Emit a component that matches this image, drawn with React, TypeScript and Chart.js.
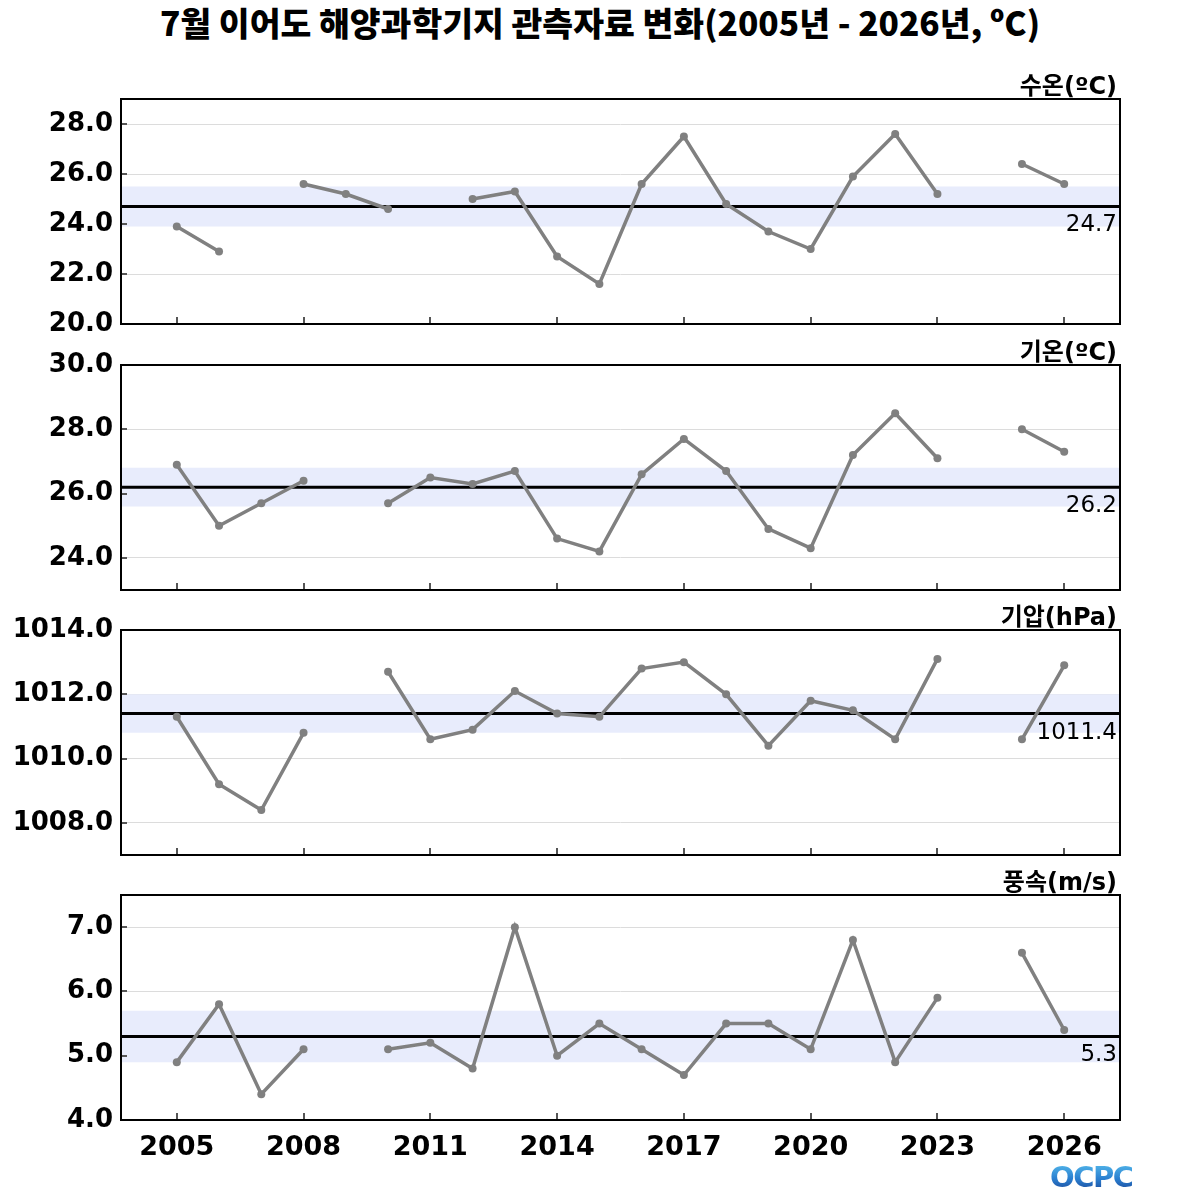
import React, { useEffect, useRef } from 'react'
import { Chart, registerables } from 'chart.js'

Chart.register(...registerables)

// 2005 ~ 2026, 7월 평균
const years = [2005, 2006, 2007, 2008, 2009, 2010, 2011, 2012, 2013, 2014, 2015, 2016, 2017, 2018, 2019, 2020, 2021, 2022, 2023, 2024, 2025, 2026]
const xTicks = [2005, 2008, 2011, 2014, 2017, 2020, 2023, 2026]

const waterTemp = [23.9, 22.9, null, 25.6, 25.2, 24.6, null, 25.0, 25.3, 22.7, 21.6, 25.6, 27.5, 24.8, 23.7, 23.0, 25.9, 27.6, 25.2, null, 26.4, 25.6]
const airTemp = [26.9, 25.0, 25.7, 26.4, null, 25.7, 26.5, 26.3, 26.7, 24.6, 24.2, 26.6, 27.7, 26.7, 24.9, 24.3, 27.2, 28.5, 27.1, null, 28.0, 27.3]
const pressure = [1011.3, 1009.2, 1008.4, 1010.8, null, 1012.7, 1010.6, 1010.9, 1012.1, 1011.4, 1011.3, 1012.8, 1013.0, 1012.0, 1010.4, 1011.8, 1011.5, 1010.6, 1013.1, null, 1010.6, 1012.9]
const windSpeed = [4.9, 5.8, 4.4, 5.1, null, 5.1, 5.2, 4.8, 7.0, 5.0, 5.5, 5.1, 4.7, 5.5, 5.5, 5.1, 6.8, 4.9, 5.9, null, 6.6, 5.4]

const waterTicks = [20, 22, 24, 26, 28]
const airTicks = [24, 26, 28, 30]
const pressureTicks = [1008, 1010, 1012, 1014]
const windTicks = [4, 5, 6, 7]

const X_MIN = 2003.68
const X_MAX = 2027.32
const W = 1200
const H = 1200

interface PanelProps {
  unit: string
  values: (number | null)[]
  mean: number
  band: [number, number]
  yMin: number
  yMax: number
  yTicks: number[]
  top: number
  bottom: number
  showX?: boolean
}

function Panel({ unit, values, mean, band, yMin, yMax, yTicks, top, bottom, showX }: PanelProps) {
  const canvasRef = useRef<HTMLCanvasElement>(null)

  useEffect(() => {
    if (!canvasRef.current) return
    const xAxisH = showX ? 48 : 0

    const decor = {
      id: 'decor',
      afterDatasetsDraw(chart: any) {
        const { ctx, chartArea: a, scales } = chart
        ctx.save()
        // inner tick marks
        ctx.strokeStyle = '#555'
        ctx.lineWidth = 2
        xTicks.forEach((t) => {
          const x = Math.round(scales.x.getPixelForValue(t))
          ctx.beginPath()
          ctx.moveTo(x, a.bottom)
          ctx.lineTo(x, a.bottom - 7)
          ctx.stroke()
        })
        yTicks.forEach((t) => {
          const y = Math.round(scales.y.getPixelForValue(t))
          ctx.beginPath()
          ctx.moveTo(a.left, y)
          ctx.lineTo(a.left + 6, y)
          ctx.stroke()
        })
        // frame
        ctx.strokeStyle = '#000'
        ctx.lineWidth = 2
        ctx.strokeRect(a.left, a.top, a.right - a.left, a.bottom - a.top)
        // mean label
        ctx.fillStyle = '#000'
        ctx.font = '23px "DejaVu Sans"'
        ctx.textAlign = 'right'
        ctx.textBaseline = 'middle'
        ctx.fillText(mean.toFixed(1), a.right - 3, scales.y.getPixelForValue(mean) + 19)
        // unit label
        ctx.font = 'bold 24px "DejaVu Sans", "Noto Sans CJK KR"'
        ctx.textBaseline = 'alphabetic'
        ctx.fillText(unit, a.right - 3, a.top - 5)
        ctx.restore()
      },
    }

    const chart = new Chart(canvasRef.current, {
      type: 'line',
      data: {
        datasets: [
          {
            data: years.map((yr, i) => ({ x: yr, y: values[i] })),
            borderColor: '#808080',
            backgroundColor: '#808080',
            borderWidth: 3.5,
            pointRadius: 4,
            pointBackgroundColor: '#808080',
            pointBorderWidth: 0,
            spanGaps: false,
            order: 0,
          },
          {
            data: [{ x: X_MIN, y: mean }, { x: X_MAX, y: mean }],
            borderColor: '#000',
            borderWidth: 3,
            pointRadius: 0,
            order: 1,
          },
          {
            data: [{ x: X_MIN, y: band[1] }, { x: X_MAX, y: band[1] }],
            borderWidth: 0,
            borderColor: 'rgba(0,0,0,0)',
            backgroundColor: '#E8ECFC',
            pointRadius: 0,
            fill: { value: band[0] },
            order: 2,
          },
        ],
      } as any,
      options: {
        animation: false,
        responsive: false,
        devicePixelRatio: 1,
        layout: {
          padding: { left: 0, right: W - 1120, top, bottom: H - bottom - xAxisH },
        },
        plugins: { legend: { display: false }, tooltip: { enabled: false } },
        scales: {
          x: {
            type: 'linear',
            min: X_MIN,
            max: X_MAX,
            display: !!showX,
            grid: { display: false, drawTicks: false },
            border: { display: false },
            afterBuildTicks: (s: any) => {
              s.ticks = xTicks.map((v) => ({ value: v }))
            },
            afterFit: (s: any) => {
              s.height = xAxisH
            },
            ticks: {
              color: '#000',
              padding: 12,
              maxRotation: 0,
              font: { family: 'DejaVu Sans', size: 27, weight: 'bold' },
              callback: (v: any) => String(v),
            },
          },
          y: {
            min: yMin,
            max: yMax,
            grid: { color: '#dcdcdc', lineWidth: 1, drawTicks: false },
            border: { display: false },
            afterBuildTicks: (s: any) => {
              s.ticks = yTicks.map((v) => ({ value: v }))
            },
            afterFit: (s: any) => {
              s.width = 121
            },
            ticks: {
              color: '#000',
              padding: 8,
              font: { family: 'DejaVu Sans', size: 26, weight: 'bold' },
              callback: (v: any) => Number(v).toFixed(1),
            },
          },
        },
      } as any,
      plugins: [decor],
    })

    return () => chart.destroy()
  }, [unit, values, mean, band, yMin, yMax, yTicks, top, bottom, showX])

  return <canvas ref={canvasRef} width={W} height={H} style={{ position: 'absolute', left: 0, top: 0 }} />
}

export default function App() {
  return (
    <div style={{ position: 'fixed', left: 0, top: 0, width: W, height: H, background: '#fff', overflow: 'hidden' }}>
      <div
        style={{
          position: 'absolute',
          left: 0,
          top: 0,
          width: W,
          textAlign: 'center',
          fontFamily: '"Noto Sans CJK KR", "DejaVu Sans"',
          fontWeight: 900,
          fontSize: 33.5,
          color: '#000',
          lineHeight: '44px',
        }}
      >
        7월 이어도 해양과학기지 관측자료 변화(2005년 - 2026년, ºC)
      </div>
      <Panel unit="수온(ºC)" values={waterTemp} mean={24.7} band={[23.9, 25.5]} yMin={20} yMax={29} yTicks={waterTicks} top={99} bottom={324} />
      <Panel unit="기온(ºC)" values={airTemp} mean={26.2} band={[25.6, 26.8]} yMin={23} yMax={30} yTicks={airTicks} top={365} bottom={590} />
      <Panel unit="기압(hPa)" values={pressure} mean={1011.4} band={[1010.8, 1012.0]} yMin={1007} yMax={1014} yTicks={pressureTicks} top={630} bottom={855} />
      <Panel unit="풍속(m/s)" values={windSpeed} mean={5.3} band={[4.9, 5.7]} yMin={4} yMax={7.5} yTicks={windTicks} top={895} bottom={1120} showX />
      <div
        style={{
          position: 'absolute',
          left: 1050,
          top: 1160,
          fontFamily: '"DejaVu Sans"',
          fontWeight: 700,
          fontSize: 29,
          lineHeight: '34px',
          letterSpacing: -1.5,
          background: 'linear-gradient(#5cc4f0, #2a7fd0 55%, #1a3f90)',
          WebkitBackgroundClip: 'text',
          backgroundClip: 'text',
          color: 'transparent',
        }}
      >
        OCPC
      </div>
    </div>
  )
}
